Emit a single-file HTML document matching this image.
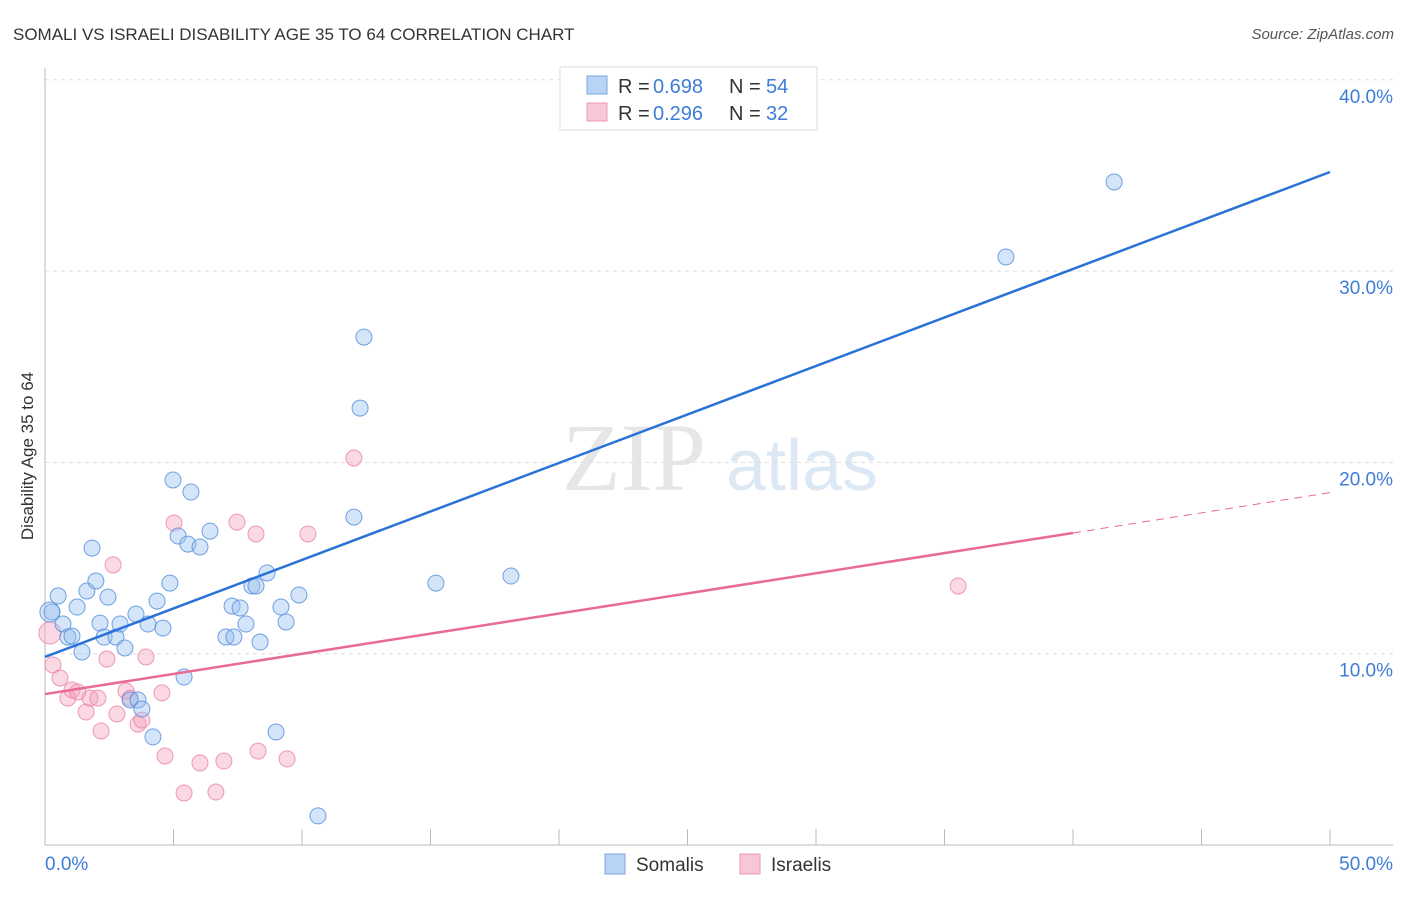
<!DOCTYPE html>
<html><head><meta charset="utf-8"><style>
body{margin:0;background:#fff;font-family:"Liberation Sans",sans-serif;}
</style></head><body>
<svg width="1406" height="892" xmlns="http://www.w3.org/2000/svg">
<text x="13" y="40" font-size="17" fill="#333">SOMALI VS ISRAELI DISABILITY AGE 35 TO 64 CORRELATION CHART</text>
<text x="1394" y="39" font-size="15" font-style="italic" fill="#555" text-anchor="end">Source: ZipAtlas.com</text>
<g>
<text x="634" y="490" font-size="96" font-family="Liberation Serif,serif" fill="#e6e6e6" text-anchor="middle">ZIP</text>
<text x="802" y="490" font-size="72" fill="#dde8f5" text-anchor="middle">atlas</text>
</g>
<g id="grid"></g>
<g id="axes"></g>
<g id="marks"></g>
<text transform="translate(33,456) rotate(-90)" font-size="17" fill="#333" text-anchor="middle">Disability Age 35 to 64</text>
<g>
<rect x="560" y="67" width="257" height="63" fill="#fff" stroke="#ddd"/>
<rect x="587" y="76" width="20" height="18" fill="#b8d3f4" stroke="#7aa6e0"/>
<rect x="587" y="103" width="20" height="18" fill="#f8c7d6" stroke="#eb9ab3"/>
<text x="618" y="93" font-size="20" fill="#333">R =</text>
<text x="653" y="93" font-size="20" fill="#3d7dd8">0.698</text>
<text x="729" y="93" font-size="20" fill="#333">N =</text>
<text x="766" y="93" font-size="20" fill="#3d7dd8">54</text>
<text x="618" y="120" font-size="20" fill="#333">R =</text>
<text x="653" y="120" font-size="20" fill="#3d7dd8">0.296</text>
<text x="729" y="120" font-size="20" fill="#333">N =</text>
<text x="766" y="120" font-size="20" fill="#3d7dd8">32</text>
</g>
<g>
<rect x="605" y="854" width="20" height="20" fill="#b8d3f4" stroke="#7aa6e0"/>
<text x="636" y="871" font-size="19" fill="#333">Somalis</text>
<rect x="740" y="854" width="20" height="20" fill="#f8c7d6" stroke="#eb9ab3"/>
<text x="771" y="871" font-size="19" fill="#333">Israelis</text>
</g>
<script>
const yTicks=[10,20,30,40];
const yTickLabels=["10.0%","20.0%","30.0%","40.0%"];
const xTickLabels=["0.0%","50.0%"];
const somaliX=[0.27,0.19,0.51,0.70,0.89,1.05,1.25,1.44,1.63,1.83,1.98,2.14,2.30,2.45,2.76,2.92,3.11,3.54,4.01,4.36,4.59,4.86,4.98,5.18,5.56,5.68,6.03,6.42,7.04,7.28,7.35,7.59,7.82,8.05,8.21,8.37,8.64,9.18,9.38,9.88,3.31,3.62,3.77,4.20,5.41,8.99,10.62,12.02,12.26,12.41,15.21,18.13,37.39,41.60];
const somaliY=[12.18,12.18,13.02,11.55,10.87,10.92,12.44,10.09,13.28,15.52,13.80,11.60,10.87,12.96,10.87,11.55,10.30,12.07,11.55,12.75,11.34,13.69,19.08,16.15,15.73,18.45,15.58,16.41,10.87,12.49,10.87,12.39,11.55,13.54,13.54,10.61,14.22,12.44,11.66,13.07,7.58,7.58,7.11,5.65,8.78,5.91,1.52,17.14,22.84,26.55,13.69,14.06,30.74,34.66];
const israeliX=[0.19,0.31,0.58,0.89,1.05,1.28,1.60,1.75,2.06,2.18,2.41,2.65,2.80,3.15,3.31,3.62,3.77,3.93,4.55,4.67,5.02,5.41,6.03,6.65,6.96,7.47,8.21,8.29,9.42,10.23,12.02,35.53];
const israeliY=[11.08,9.41,8.73,7.68,8.10,8.00,6.95,7.68,7.68,5.96,9.72,14.64,6.85,8.05,7.68,6.32,6.53,9.83,7.95,4.65,16.83,2.72,4.29,2.77,4.39,16.88,16.26,4.91,4.50,16.26,20.23,13.54];
const somaliLine=[9.83,35.18];
const israeliLine=[7.89,16.31,18.42];
const X=v=>45+v/50*1285, Y=v=>845-v/10*191.3;
const NS="http://www.w3.org/2000/svg";
function mk(parent,tag,attrs){const e=document.createElementNS(NS,tag);for(const k in attrs)e.setAttribute(k,attrs[k]);document.getElementById(parent).appendChild(e);return e;}
yTicks.forEach((t,i)=>{
 const g=mk('grid','line',{x1:45,x2:1393,y1:Y(t),y2:Y(t),stroke:'#ddd','stroke-dasharray':'4,4'});
 
 
 const l=mk('axes','text',{x:1393,y:Y(t)+23,'font-size':19,fill:'#3d7dd8','text-anchor':'end'});l.textContent=yTickLabels[i];
 
 
});
mk('axes','line',{x1:45,x2:45,y1:68,y2:845,stroke:'#bbb'});
mk('axes','line',{x1:45,x2:1393,y1:845,y2:845,stroke:'#bbb'});
for(let i=0;i<=10;i++){mk('axes','line',{x1:X(i*5),x2:X(i*5),y1:829,y2:845,stroke:'#bbb'});}
const xl0=mk('axes','text',{x:45,y:870,'font-size':19,fill:'#3d7dd8'});xl0.textContent=xTickLabels[0];


const xl1=mk('axes','text',{x:1393,y:870,'font-size':19,fill:'#3d7dd8','text-anchor':'end'});xl1.textContent=xTickLabels[1];


israeliX.forEach((x,i)=>{const c=mk('marks','circle',{cx:X(x),cy:Y(israeliY[i]),r:i==0?11:8,fill:'rgba(244,160,188,0.4)',stroke:'rgba(235,130,165,0.8)'});
 
 });
somaliX.forEach((x,i)=>{const c=mk('marks','circle',{cx:X(x),cy:Y(somaliY[i]),r:i==1?10:8,fill:'rgba(150,190,240,0.4)',stroke:'rgba(80,140,220,0.8)'});
 
 });
const bl=mk('marks','line',{x1:X(0),y1:Y(somaliLine[0]),x2:X(50),y2:Y(somaliLine[1]),stroke:'#2a72d8','stroke-width':2.5});


const pl=mk('marks','line',{x1:X(0),y1:Y(israeliLine[0]),x2:X(40),y2:Y(israeliLine[1]),stroke:'#e86a95','stroke-width':2.5});


const pd=mk('marks','line',{x1:X(40),y1:Y(israeliLine[1]),x2:X(50),y2:Y(israeliLine[2]),stroke:'#e86a95','stroke-width':1,'stroke-dasharray':'8,6'});


</script>
</svg>
</body></html>
